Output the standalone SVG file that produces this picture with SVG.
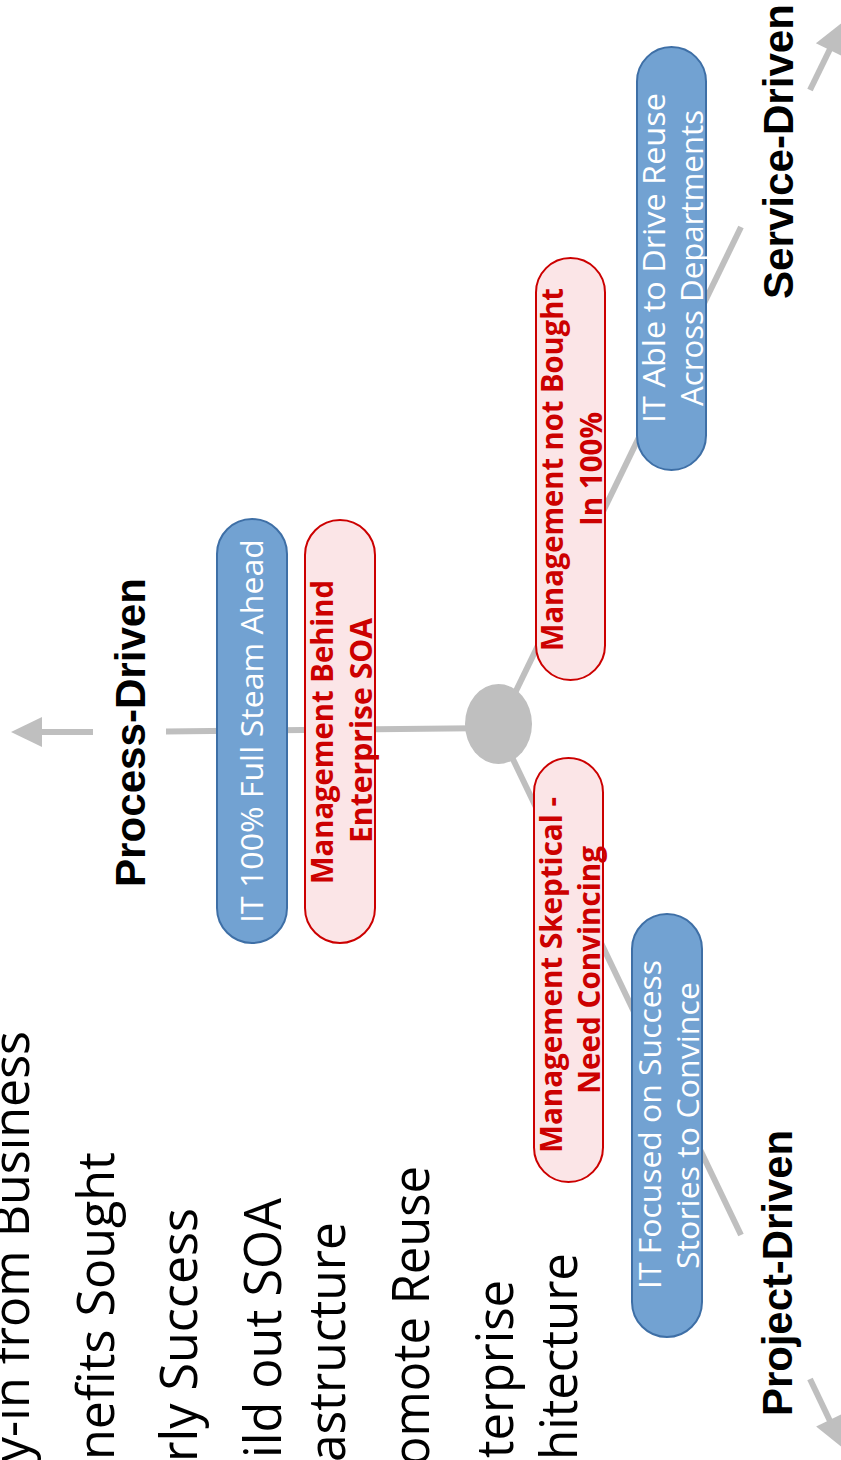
<svg xmlns="http://www.w3.org/2000/svg" width="841" height="1460" viewBox="0 0 841 1460">
<style>
.conn{stroke:#BFBFBF;stroke-width:6;fill:none}
.head{fill:#BFBFBF}
.blue{fill:#72A2D2;stroke:#3E6FA6;stroke-width:2}
.pink{fill:#FBE5E7;stroke:#CC0000;stroke-width:2}
.wt{font-family:"Open Sans","Noto Sans",sans-serif;font-size:31px;fill:#FFFFFF}
.rt{font-family:"Open Sans","Noto Sans",sans-serif;font-size:31px;font-weight:bold;fill:#CC0000}
.lbl{font-family:"Liberation Sans",Arial,sans-serif;font-size:42px;font-weight:bold;fill:#000000}
.side{font-family:"Open Sans","Noto Sans",sans-serif;font-size:52px;fill:#000000}
</style>
<rect x="0" y="0" width="841" height="1460" fill="#FFFFFF"/>
<g id="connectors">
<line class="conn" x1="42" y1="732" x2="93" y2="732"/>
<polygon class="head" points="11,732 42,717 42,747"/>
<line class="conn" x1="166" y1="731.5" x2="498" y2="728"/>
<line class="conn" x1="498" y1="728" x2="741" y2="227"/>
<line class="conn" x1="810" y1="90" x2="830" y2="49"/>
<polygon class="head" points="843,22 843,56.4 815.9,43.2"/>
<line class="conn" x1="498" y1="728" x2="741" y2="1235"/>
<line class="conn" x1="810" y1="1379" x2="830" y2="1421"/>
<polygon class="head" points="843,1448 816.1,1426.5 843,1413.5"/>
</g>
<g id="hub"><ellipse cx="498.5" cy="724" rx="33.5" ry="40" fill="#BFBFBF"/></g>
<g id="side-text">
<text class="side" transform="translate(29,1462) rotate(-90)" textLength="431" lengthAdjust="spacingAndGlyphs">y-in from Business</text>
<text class="side" transform="translate(114,1460) rotate(-90)" textLength="308" lengthAdjust="spacingAndGlyphs">nefits Sought</text>
<text class="side" transform="translate(197,1462) rotate(-90)" textLength="254" lengthAdjust="spacingAndGlyphs">rly Success</text>
<text class="side" transform="translate(281,1458) rotate(-90)" textLength="260" lengthAdjust="spacingAndGlyphs">ild out SOA</text>
<text class="side" transform="translate(345,1462) rotate(-90)" textLength="240" lengthAdjust="spacingAndGlyphs">astructure</text>
<text class="side" transform="translate(429,1466) rotate(-90)" textLength="300" lengthAdjust="spacingAndGlyphs">omote Reuse</text>
<text class="side" transform="translate(513,1458) rotate(-90)" textLength="178" lengthAdjust="spacingAndGlyphs">terprise</text>
<text class="side" transform="translate(577,1460) rotate(-90)" textLength="207" lengthAdjust="spacingAndGlyphs">hitecture</text>
</g>
<g id="label-process"><text class="lbl" transform="translate(145,887) rotate(-90)" textLength="309" lengthAdjust="spacingAndGlyphs">Process-Driven</text></g>
<g id="label-service"><text class="lbl" transform="translate(793,299) rotate(-90)" textLength="295" lengthAdjust="spacingAndGlyphs">Service-Driven</text></g>
<g id="label-project"><text class="lbl" transform="translate(792,1416) rotate(-90)" textLength="286" lengthAdjust="spacingAndGlyphs">Project-Driven</text></g>
<g id="node-it-full">
<rect class="blue" x="217" y="519" width="70" height="424" rx="35" ry="35"/>
<text class="wt" transform="translate(263,923) rotate(-90)" textLength="384" lengthAdjust="spacingAndGlyphs">IT 100% Full Steam Ahead</text>
</g>
<g id="node-mgmt-behind">
<rect class="pink" x="305" y="520" width="70" height="423" rx="35" ry="35"/>
<text class="rt" transform="translate(333,884) rotate(-90)" textLength="304" lengthAdjust="spacingAndGlyphs">Management Behind</text>
<text class="rt" transform="translate(372,843) rotate(-90)" textLength="225" lengthAdjust="spacingAndGlyphs">Enterprise SOA</text>
</g>
<g id="node-mgmt-not-bought">
<rect class="pink" x="536" y="258" width="69" height="422" rx="34.5" ry="34.5"/>
<text class="rt" transform="translate(563,651) rotate(-90)" textLength="363" lengthAdjust="spacingAndGlyphs">Management not Bought</text>
<text class="rt" transform="translate(602,526) rotate(-90)" textLength="114" lengthAdjust="spacingAndGlyphs">In 100%</text>
</g>
<g id="node-mgmt-skeptical">
<rect class="pink" x="534" y="758" width="69" height="424" rx="34.5" ry="34.5"/>
<text class="rt" transform="translate(562,1153) rotate(-90)" textLength="356" lengthAdjust="spacingAndGlyphs">Management Skeptical -</text>
<text class="rt" transform="translate(600,1094) rotate(-90)" textLength="248" lengthAdjust="spacingAndGlyphs">Need Convincing</text>
</g>
<g id="node-it-focused">
<rect class="blue" x="632" y="914" width="70" height="423" rx="35" ry="35"/>
<text class="wt" transform="translate(661,1289) rotate(-90)" textLength="329" lengthAdjust="spacingAndGlyphs">IT Focused on Success</text>
<text class="wt" transform="translate(699,1269) rotate(-90)" textLength="287" lengthAdjust="spacingAndGlyphs">Stories to Convince</text>
</g>
<g id="node-it-able">
<rect class="blue" x="637" y="47" width="69" height="423" rx="34.5" ry="34.5"/>
<text class="wt" transform="translate(665,423) rotate(-90)" textLength="330" lengthAdjust="spacingAndGlyphs">IT Able to Drive Reuse</text>
<text class="wt" transform="translate(703,406) rotate(-90)" textLength="296" lengthAdjust="spacingAndGlyphs">Across Departments</text>
</g>
</svg>
